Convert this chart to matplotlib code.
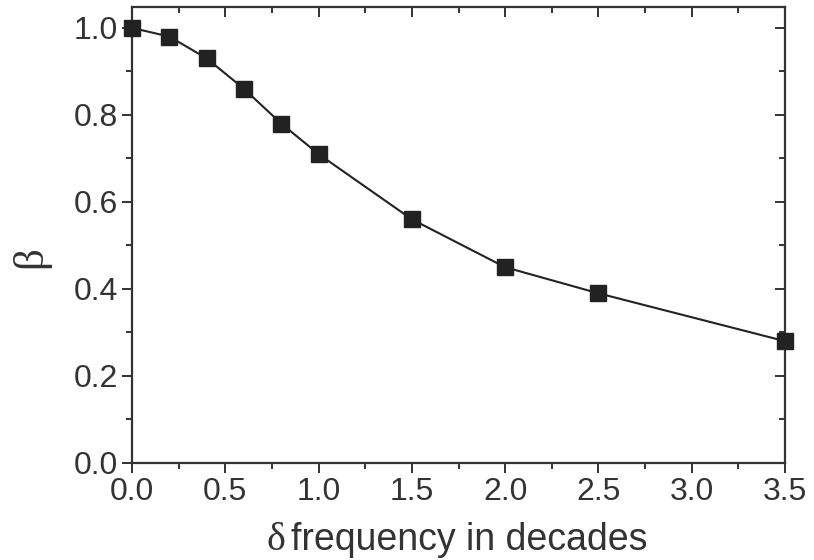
import matplotlib
matplotlib.use("Agg")
import matplotlib.pyplot as plt
from matplotlib.ticker import MultipleLocator

x_decades = [0.0, 0.2, 0.4, 0.6, 0.8, 1.0, 1.5, 2.0, 2.5, 3.5]
beta = [1.0, 0.98, 0.93, 0.86, 0.78, 0.71, 0.56, 0.45, 0.39, 0.28]
x_ticks = [0.0, 0.5, 1.0, 1.5, 2.0, 2.5, 3.0, 3.5]
x_ticklabels = ['0.0', '0.5', '1.0', '1.5', '2.0', '2.5', '3.0', '3.5']
y_ticks = [0.0, 0.2, 0.4, 0.6, 0.8, 1.0]
y_ticklabels = ['0.0', '0.2', '0.4', '0.6', '0.8', '1.0']

plt.rcParams['font.family'] = ['Liberation Sans', 'DejaVu Sans']
TXT = '#333333'

fig = plt.figure(figsize=(8.14, 5.6), dpi=100)
ax = fig.add_axes([132/814, 1 - 463/560, (785-132)/814, (463-7)/560])

ax.plot(x_decades, beta, color='#222222', lw=1.5, marker='s', ms=11,
        markerfacecolor='#222222', markeredgecolor='#222222', clip_on=False, zorder=3)

ax.set_xlim(0, 3.5)
ax.set_ylim(0, 1.048)
ax.xaxis.set_minor_locator(MultipleLocator(0.25))
ax.yaxis.set_minor_locator(MultipleLocator(0.1))
ax.set_xticks(x_ticks)
ax.set_xticklabels(x_ticklabels)
ax.set_yticks(y_ticks)
ax.set_yticklabels(y_ticklabels)

for s in ax.spines.values():
    s.set_linewidth(1.6)
    s.set_color(TXT)

ax.tick_params(which='both', direction='out', top=False, right=False,
               labelsize=23, colors=TXT, width=1.4, pad=3)
ax.tick_params(which='major', length=7)
ax.tick_params(which='minor', length=4)

# inward ticks on top and right
ax2 = ax.secondary_xaxis('top')
ax2.set_xticks(x_ticks)
ax2.xaxis.set_minor_locator(MultipleLocator(0.25))
ax2.tick_params(which='both', direction='in', labeltop=False, width=1.4, colors=TXT)
ax2.tick_params(which='major', length=7)
ax2.tick_params(which='minor', length=4)
ax2.spines['top'].set_visible(False)
ax3 = ax.secondary_yaxis('right')
ax3.set_yticks(y_ticks)
ax3.yaxis.set_minor_locator(MultipleLocator(0.1))
ax3.tick_params(which='both', direction='in', labelright=False, width=1.4, colors=TXT)
ax3.tick_params(which='major', length=7)
ax3.tick_params(which='minor', length=4)
ax3.spines['right'].set_visible(False)

# x label: serif delta + sans text
fig.text(285/814, 1 - 550/560, 'δ', fontsize=29, color=TXT, ha='right',
         va='baseline', family=['Liberation Serif', 'DejaVu Serif'])
fig.text(291/814, 1 - 550/560, 'frequency in decades', fontsize=27, color=TXT,
         ha='left', va='baseline')

# y label: serif beta
fig.text(31/814, 1 - 257/560, 'β', fontsize=31, color=TXT, rotation=90,
         ha='center', va='center', family=['Liberation Serif', 'DejaVu Serif'])

fig.savefig('out.png', dpi=100)
